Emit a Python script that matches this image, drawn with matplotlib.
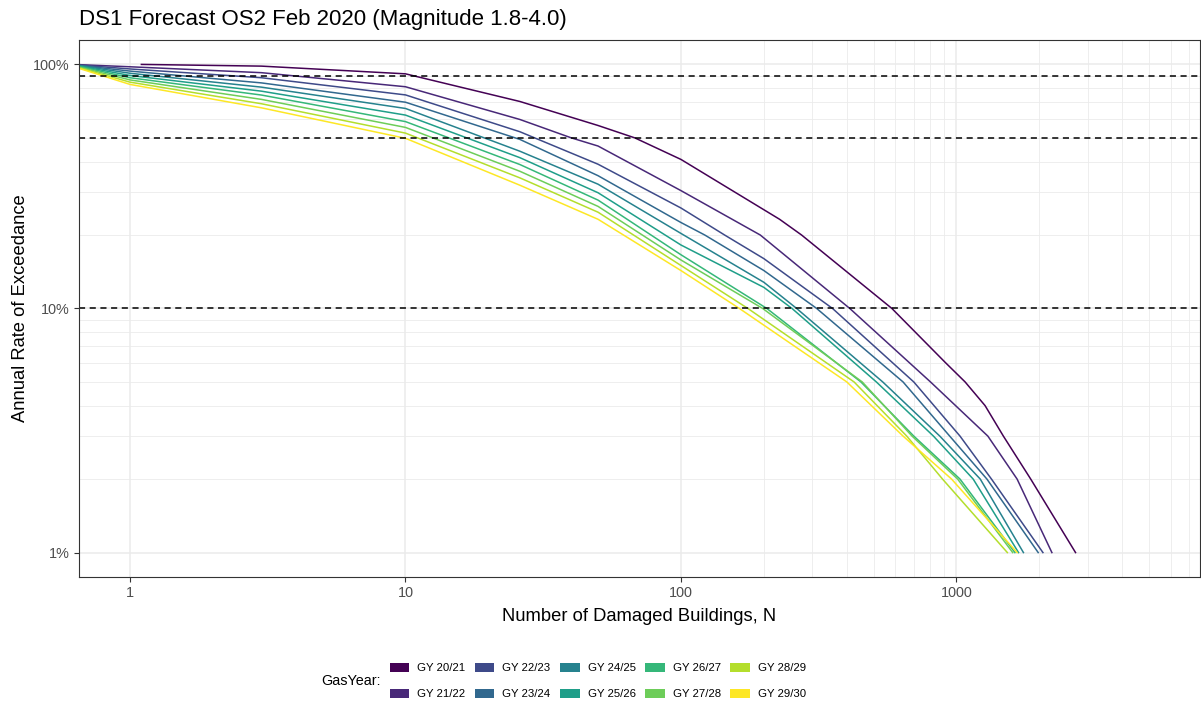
import matplotlib
matplotlib.use('Agg')
import matplotlib.pyplot as plt
from matplotlib.patches import Patch
from matplotlib.ticker import FixedLocator, NullFormatter

plt.rcParams['font.family'] = ['Liberation Sans', 'DejaVu Sans']

# Data (N = damaged buildings, p = annual exceedance in %)
gas_years = ['GY 20/21', 'GY 21/22', 'GY 22/23', 'GY 23/24', 'GY 24/25',
             'GY 25/26', 'GY 26/27', 'GY 27/28', 'GY 28/29', 'GY 29/30']

n_values = [
    [1.1, 3, 10, 26, 50, 68, 100, 228, 274, 583, 912, 1075, 1270, 1480, 1860, 2705],
    [0.65, 1, 3, 10, 26, 40, 50, 100, 194, 410, 805, 1300, 1660, 2220],
    [0.65, 1, 3, 10, 26, 50, 100, 144, 200, 355, 700, 1030, 1340, 2060],
    [0.65, 1, 3, 10, 26, 50, 100, 122, 200, 311, 640, 945, 1290, 1980],
    [0.65, 1, 3, 10, 26, 50, 100, 200, 263, 540, 870, 1220, 1750],
    [0.65, 1, 3, 10, 26, 50, 100, 200, 253, 512, 825, 1150, 1680],
    [0.65, 1, 3, 10, 26, 50, 100, 205, 450, 700, 1030, 1630],
    [0.65, 1, 3, 10, 26, 50, 100, 198, 455, 690, 1010, 1600],
    [0.65, 1, 3, 10, 26, 50, 100, 175, 425, 660, 890, 1530],
    [0.65, 1, 3, 10, 26, 50, 100, 163, 400, 640, 960, 1660],
]
pct_values = [
    [100, 98.4, 91.5, 70.5, 56.2, 50, 40.8, 23.2, 20, 10, 6, 5, 4, 3, 2, 1],
    [99.8, 97.8, 92.5, 81, 59.5, 50, 46.3, 30.4, 20, 10, 5, 3, 2, 1],
    [99.5, 95.8, 88.2, 75, 53, 39, 25.8, 20, 16, 10, 5, 3, 2, 1],
    [99.2, 93.9, 84, 70, 49.3, 35, 22.5, 20, 14.3, 10, 5, 3, 2, 1],
    [99, 92, 80.7, 66, 44.1, 32.3, 20.3, 12.8, 10, 5, 3, 2, 1],
    [98.6, 90.1, 77.7, 62, 41.5, 29.8, 18.2, 12.2, 10, 5, 3, 2, 1],
    [98.2, 88.2, 74.9, 58.3, 38.9, 27.8, 16.6, 10, 5, 3, 2, 1],
    [97.6, 86.4, 71.9, 55.2, 36.5, 26.2, 15.8, 10, 5, 3, 2, 1],
    [97, 84.6, 69, 52.3, 34.3, 24.8, 15, 10, 5, 3, 2, 1],
    [96.5, 82.8, 66.4, 49.8, 32, 23.2, 14.3, 10, 5, 3, 2, 1],
]
colors = ['#440154', '#482878', '#3E4A89', '#31688E', '#26828E',
          '#1F9E89', '#35B779', '#6DCD59', '#B4DE2C', '#FDE725']

threshold_lines = [90, 50, 10]
x_major = [1, 10, 100, 1000]
x_minor = [200, 300, 400, 500, 600, 700, 800, 900,
           2000, 3000, 4000, 5000, 6000, 7000]
y_major = [1, 10, 100]
y_minor = [2, 3, 4, 5, 6, 7, 8, 9, 20, 30, 40, 50, 60, 70, 80, 90]

fig = plt.figure(figsize=(12.01, 7.06), dpi=100)
ax = fig.add_axes([79 / 1201, 1 - 577 / 706, 1121 / 1201, 537 / 706])

ax.set_xscale('log')
ax.set_yscale('log')
ax.set_xlim(0.653, 7656)
ax.set_ylim(0.794, 125.9)

# grid
ax.xaxis.set_major_locator(FixedLocator(x_major))
ax.xaxis.set_minor_locator(FixedLocator(x_minor))
ax.yaxis.set_major_locator(FixedLocator(y_major))
ax.yaxis.set_minor_locator(FixedLocator(y_minor))
ax.set_xticklabels([str(v) for v in x_major])
ax.set_yticklabels([f'{v}%' for v in y_major])
ax.xaxis.set_minor_formatter(NullFormatter())
ax.yaxis.set_minor_formatter(NullFormatter())
ax.grid(which='major', color='#EBEBEB', lw=1.1)
ax.grid(which='minor', color='#EBEBEB', lw=0.6)
ax.set_axisbelow(True)
ax.tick_params(which='minor', length=0)
ax.tick_params(which='major', length=3.5, width=0.8, color='#333333',
               labelcolor='#4D4D4D', labelsize=10.4, pad=3)

for side in ax.spines.values():
    side.set_color('#333333')
    side.set_linewidth(0.8)

for i in range(len(gas_years)):
    ax.plot(n_values[i], pct_values[i], color=colors[i], lw=1.1,
            solid_joinstyle='round')

for h in threshold_lines:
    ax.axhline(h, color='black', lw=1.1, linestyle=(0, (4, 3)))

ax.set_xlabel('Number of Damaged Buildings, N', fontsize=13.2, labelpad=6)
ax.set_ylabel('Annual Rate of Exceedance', fontsize=13.2, labelpad=3)
fig.text(79 / 1201, 1 - 20 / 706, 'DS1 Forecast OS2 Feb 2020 (Magnitude 1.8-4.0)',
         fontsize=16, ha='left', va='center')

# legend
handles = [Patch(facecolor=c, edgecolor='none') for c in colors]
fig.text(321 / 1201, 1 - 681 / 706, 'GasYear:', fontsize=10.4,
         ha='left', va='center')
fig.legend(handles, gas_years, ncol=5, frameon=False, fontsize=8.2,
           loc='center left', bbox_to_anchor=(390 / 1201, 1 - 681 / 706),
           borderaxespad=0, borderpad=0, handlelength=1.7, handleheight=0.9,
           handletextpad=0.7, columnspacing=0.85, labelspacing=1.35)

fig.savefig('out.png', dpi=100)
